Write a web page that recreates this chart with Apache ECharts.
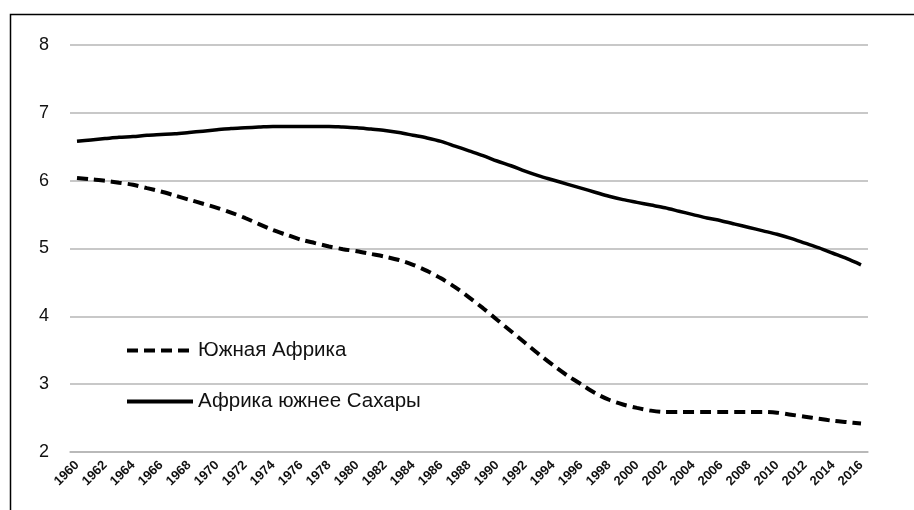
<!DOCTYPE html>
<html>
<head>
<meta charset="utf-8">
<script src="https://cdn.jsdelivr.net/npm/echarts@6/dist/echarts.min.js"></script>
<style>
  html, body { margin: 0; padding: 0; background: #fff; }
  #chart { width: 914px; height: 510px; }
</style>
</head>
<body>
<div id="chart"></div>
<script>
// годы 1960..2016
var years = [];
for (var y = 1960; y <= 2016; y++) years.push(String(y));

// Южная Африка
var southAfrica = [
    6.04, 6.02, 6.00, 5.97, 5.94, 5.89, 5.84, 5.78, 5.72, 5.66,
    5.60, 5.53, 5.45, 5.36, 5.27, 5.20, 5.13, 5.08, 5.03, 4.99,
    4.96, 4.92, 4.88, 4.83, 4.76, 4.67, 4.56, 4.43, 4.28, 4.12,
    3.95, 3.78, 3.61, 3.44, 3.28, 3.13, 3.00, 2.87, 2.77, 2.70,
    2.65, 2.61, 2.59, 2.59, 2.59, 2.59, 2.59, 2.59, 2.59, 2.59,
    2.58, 2.55, 2.52, 2.49, 2.46, 2.44, 2.42
];

// Африка южнее Сахары
var subSaharan = [
    6.58, 6.60, 6.62, 6.64, 6.65, 6.67, 6.68, 6.69, 6.71, 6.73,
    6.75, 6.77, 6.78, 6.79, 6.80, 6.80, 6.80, 6.80, 6.80, 6.79,
    6.78, 6.76, 6.74, 6.71, 6.67, 6.63, 6.58, 6.51, 6.44, 6.37,
    6.29, 6.22, 6.14, 6.07, 6.01, 5.95, 5.89, 5.83, 5.77, 5.72,
    5.68, 5.64, 5.60, 5.55, 5.50, 5.45, 5.41, 5.36, 5.31, 5.26,
    5.21, 5.15, 5.08, 5.01, 4.93, 4.85, 4.76
];

var chart = echarts.init(document.getElementById('chart'));

var option = {
    animation: false,
    backgroundColor: '#fff',
    textStyle: { fontFamily: 'Liberation Sans' },
    graphic: [{
        type: 'polyline',
        shape: { points: [[10.5, 510], [10.5, 14.5], [914, 14.5]] },
        style: { stroke: '#000', lineWidth: 1.5, fill: null }
    }],
    grid: { left: 70, right: 46, top: 45, bottom: 58 },
    legend: {
        orient: 'vertical',
        left: 120,
        top: 335,
        itemWidth: 66,
        itemHeight: 14,
        itemGap: 30,
        itemStyle: { opacity: 0, borderWidth: 0 },
        lineStyle: { width: 4 },
        textStyle: { fontSize: 20.5, color: '#111' },
        data: ['Южная Африка', 'Африка южнее Сахары']
    },
    xAxis: {
        type: 'category',
        data: years,
        boundaryGap: true,
        axisLine: { lineStyle: { color: '#b4b4b4', width: 1.5 } },
        axisTick: { show: false },
        axisLabel: {
            interval: 1,
            rotate: 45,
            fontSize: 13,
            fontWeight: 'bold',
            color: '#111',
            margin: 11
        }
    },
    yAxis: {
        type: 'value',
        min: 2,
        max: 8,
        interval: 1,
        axisLine: { show: false },
        axisTick: { show: false },
        axisLabel: { fontSize: 18, color: '#111', margin: 21 },
        splitLine: { lineStyle: { color: '#c8c8c8', width: 2 } }
    },
    series: [{
        name: 'Южная Африка',
        type: 'line',
        data: southAfrica,
        symbol: 'none',
        smooth: 0.3,
        lineStyle: { color: '#000', width: 4, type: [11, 6] },
        itemStyle: { color: '#000' }
    }, {
        name: 'Африка южнее Сахары',
        type: 'line',
        data: subSaharan,
        symbol: 'none',
        smooth: 0.3,
        lineStyle: { color: '#000', width: 3.5 },
        itemStyle: { color: '#000' }
    }]
};

chart.setOption(option);
</script>
</body>
</html>
